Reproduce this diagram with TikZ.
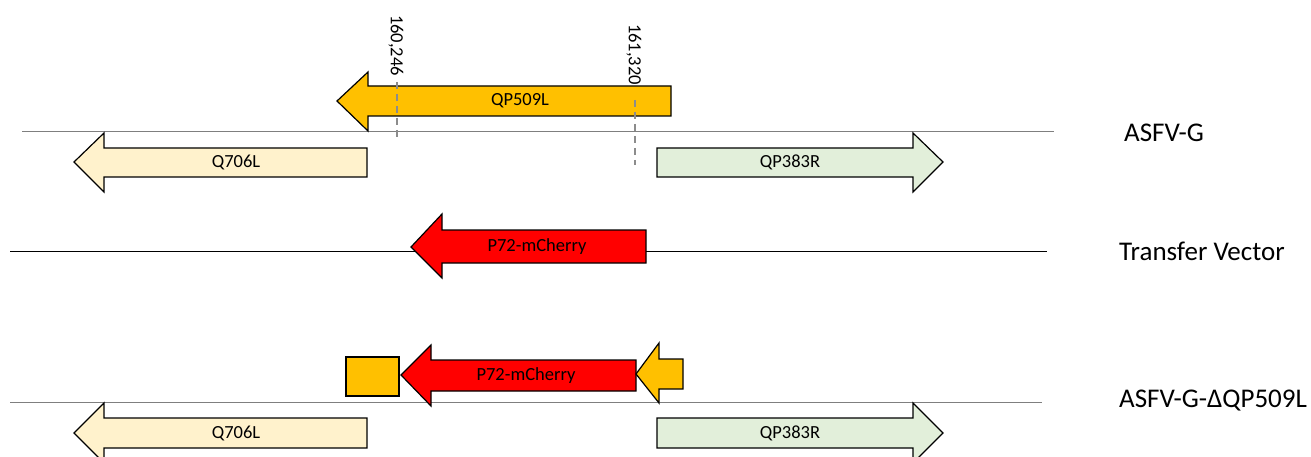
\documentclass[tikz,border=0pt]{standalone}
\usepackage{fontspec}
\setmainfont{Carlito}
\begin{document}
\begin{tikzpicture}[x=1pt,y=-1pt,
  gene/.style={draw=black,line width=1.2pt,line join=miter},
  glabel/.style={font=\fontsize{18.5}{22}\selectfont,inner sep=0pt},
  rlabel/.style={font=\fontsize{27}{32}\selectfont,anchor=west,inner sep=0pt},
  coordlabel/.style={font=\fontsize{18.5}{22}\selectfont,rotate=-90,anchor=west,inner sep=0pt},
  dna/.style={line width=1pt},
  cut/.style={draw=gray!90,line width=2pt,dash pattern=on 7pt off 5pt}]
\useasboundingbox (0,0) rectangle (1311,457);
\definecolor{gold}{HTML}{FFC000}
\definecolor{cream}{HTML}{FFF2CC}
\definecolor{mint}{HTML}{E2EFDA}
\definecolor{dnagray}{HTML}{7F7F7F}

% DNA lines
\draw[dna,dnagray] (22,132) coordinate (l1a) -- (1054,132) coordinate (l1b);
\draw[dna,black] (10,251) coordinate (l2a) -- (1047,251) coordinate (l2b);
\draw[dna,dnagray] (10,402) coordinate (l3a) -- (1042,402) coordinate (l3b);

% Row 1
\draw[gene,fill=gold] (671,86) -- (368,86) -- (368,72) -- (337,101) -- (368,131) -- (368,116) -- (671,116) -- cycle;
\node[glabel] (qp509l) at (520,101) {QP509L};
\draw[gene,fill=cream] (367,148) -- (104,148) -- (104,133) -- (74,162) -- (104,192) -- (104,177) -- (367,177) -- cycle;
\node[glabel] (q706l) at (236,162) {Q706L};
\draw[gene,fill=mint] (657,148) -- (913,148) -- (913,133) -- (943,162) -- (913,192) -- (913,177) -- (657,177) -- cycle;
\node[glabel] (qp383r) at (790,162) {QP383R};

\draw[cut] (397,82) -- (397,139);
\draw[cut] (635,100) -- (635,165);
\node[coordlabel] (p1) at (396,15) {160,246};
\node[coordlabel] (p2) at (634,24) {161,320};

\node[rlabel] (asfvg) at (1124,133) {ASFV-G};

% Row 2
\draw[gene,fill=red] (646,230) -- (442,230) -- (442,214) -- (411,247) -- (442,278) -- (442,263) -- (646,263) -- cycle;
\node[glabel] (p72a) at (537,247) {P72-mCherry};
\node[rlabel] (tv) at (1119,251) {Transfer Vector};

% Row 3
\draw[gene,fill=gold] (346,357) rectangle (399,396);
\draw[gene,fill=red] (636,360) -- (431,360) -- (431,345) -- (401,375) -- (431,406) -- (431,391) -- (636,391) -- cycle;
\node[glabel] (p72b) at (526,376) {P72-mCherry};
\draw[gene,fill=gold] (683,359) -- (659,359) -- (659,343) -- (636,374) -- (659,403) -- (659,389) -- (683,389) -- cycle;
\draw[gene,fill=cream] (367,418) -- (104,418) -- (104,403) -- (74,433) -- (104,463) -- (104,448) -- (367,448) -- cycle;
\node[glabel] (q706lb) at (236,433) {Q706L};
\draw[gene,fill=mint] (657,418) -- (913,418) -- (913,403) -- (943,433) -- (913,463) -- (913,448) -- (657,448) -- cycle;
\node[glabel] (qp383rb) at (790,433) {QP383R};
\node[rlabel] (asfvgd) at (1119,401) {ASFV-G-ΔQP509L};
\end{tikzpicture}
\end{document}
